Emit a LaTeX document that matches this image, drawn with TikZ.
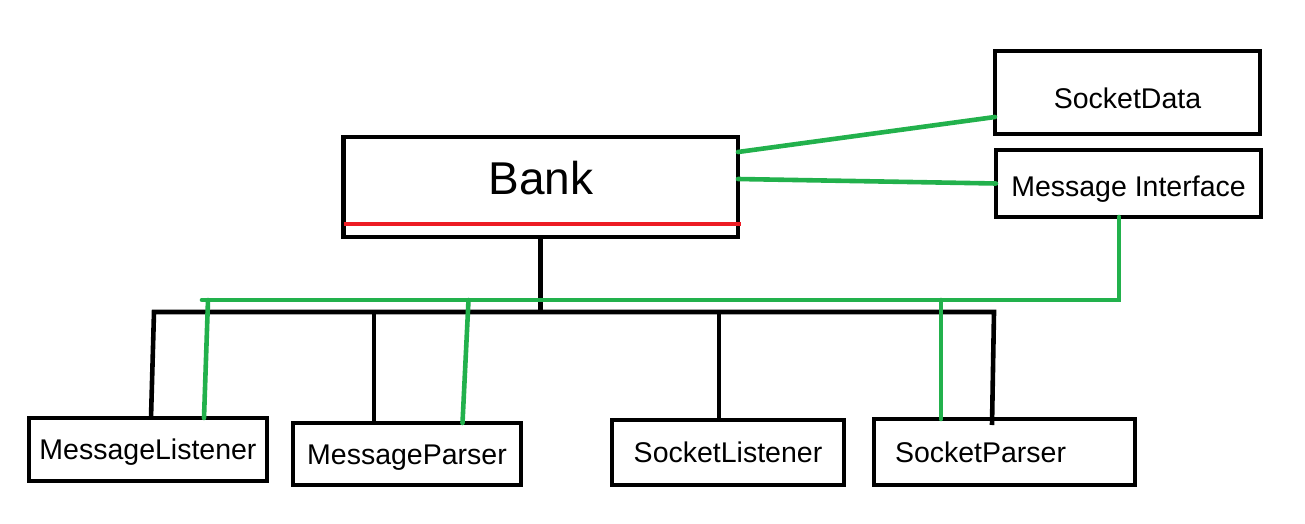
\documentclass[tikz,border=0pt]{standalone}
\usepackage{fontspec}
\setmainfont{Liberation Sans}
\definecolor{paintgreen}{RGB}{34,177,76}
\definecolor{paintred}{RGB}{237,28,36}
\tikzset{
  cls/.style={draw, line width=4.6pt, inner sep=0pt, outer sep=0pt,
    font=\fontsize{28.5}{30}\selectfont, text height=20.4pt, text depth=0pt},
  tree/.style={line width=4.6pt},
  link/.style={paintgreen, line width=4.6pt, line cap=round},
}

\begin{document}
\begin{tikzpicture}[x=1pt,y=-1pt]
\useasboundingbox (0,0) rectangle (1305,524);

% classes
\node[cls, minimum width=394.5pt, minimum height=100pt, font=\fontsize{46}{50}\selectfont,
  text height=33pt, text depth=18pt] (bank) at (540.75,187) {Bank};
\node[cls, minimum width=265pt, minimum height=83pt, text height=31.4pt] (sdata) at (1127.5,92.5) {SocketData};
\node[cls, minimum width=265pt, minimum height=67pt, text height=26.4pt] (msgif) at (1128.5,183.5) {Message Interface};
\node[cls, minimum width=238pt, minimum height=63pt] (mlist) at (148,449.5) {MessageListener};
\node[cls, minimum width=228pt, minimum height=62pt] (mparse) at (407,454) {MessageParser};
\node[cls, minimum width=232pt, minimum height=65pt] (slist) at (728,452.5) {SocketListener};
\node[cls, minimum width=261pt, minimum height=66pt, text width=219pt, align=left] (sparse) at (1004.5,452) {SocketParser};

% compartment line
\draw[paintred, line width=4.6pt] ([yshift=-87pt]bank.north west) -- ([xshift=3pt,yshift=-87pt]bank.north east);

% black tree
\coordinate (bus-l) at (154,312);
\coordinate (bus-r) at (994,312);
\draw[tree] ([xshift=3pt]mlist.north) -- (bus-l) -- (bus-r) -- ([xshift=-12.5pt,yshift=-6pt]sparse.north);
\draw[tree] (bank.south) -- (bank.south |- bus-l);
\draw[tree] ([xshift=-33pt]mparse.north) -- ([xshift=-33pt]mparse.north |- bus-l);
\draw[tree] ([xshift=-9pt]slist.north) -- ([xshift=-9pt]slist.north |- bus-l);

% green links
\coordinate (gbus-l) at (202,300);
\coordinate (gbus-r) at (1119,300);
\draw[link] ([yshift=-15pt]bank.north east) -- ([yshift=-24.5pt]sdata.west);
\draw[link] ([yshift=8pt]bank.east) -- (msgif.west);
\draw[link] ([xshift=-9.5pt]msgif.south) -- (gbus-r) -- (gbus-l);
\draw[link] ([xshift=56pt]mlist.north) -- ([xshift=60pt]mlist.north |- gbus-l);
\draw[link] ([xshift=55.5pt]mparse.north) -- ([xshift=61.5pt]mparse.north |- gbus-l);
\draw[link] ([xshift=-63.5pt]sparse.north) -- ([xshift=-63.5pt]sparse.north |- gbus-l);
\end{tikzpicture}
\end{document}
